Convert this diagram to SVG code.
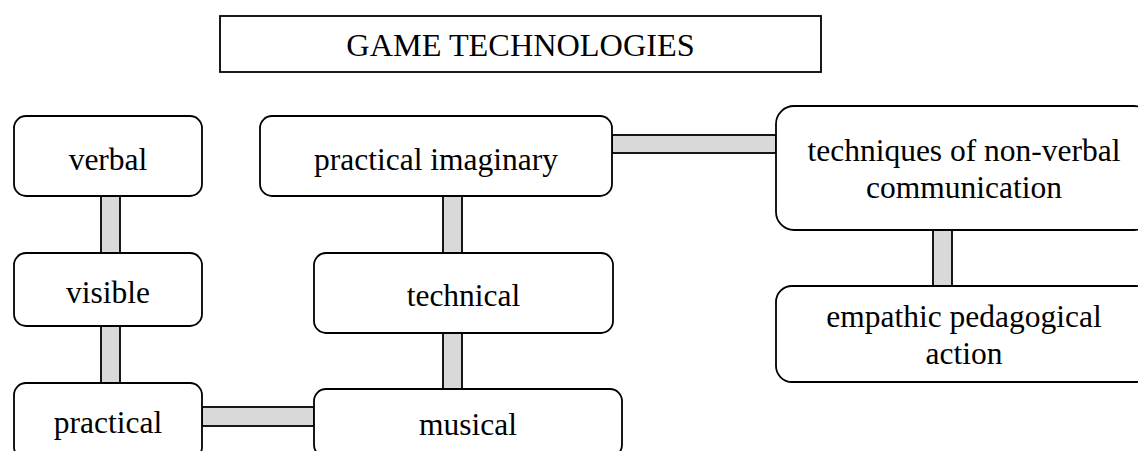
<svg xmlns="http://www.w3.org/2000/svg" width="1138" height="451" viewBox="0 0 1138 451">
<style>
.box{fill:#ffffff;stroke:#000000;stroke-width:1.8}
.bar{fill:#d9d9d9;stroke:#000000;stroke-width:1.8}
.t{font-family:"Liberation Serif","Times New Roman",serif;font-size:31.5px;fill:#000000;text-anchor:middle}
</style>
<rect x="0" y="0" width="1138" height="451" fill="#ffffff"/>
<g id="connectors">
<rect class="bar" x="101" y="196" width="19" height="57"/>
<rect class="bar" x="101" y="326" width="19" height="57"/>
<rect class="bar" x="202" y="407" width="112" height="19"/>
<rect class="bar" x="443" y="196" width="19" height="57"/>
<rect class="bar" x="443" y="333" width="19" height="56"/>
<rect class="bar" x="612" y="135" width="164" height="18"/>
<rect class="bar" x="933" y="230" width="19" height="56"/>
</g>
<g id="title">
<rect class="box" x="220" y="16" width="601" height="56"/>
<text class="t" x="520.5" y="56" style="font-size:32.3px">GAME TECHNOLOGIES</text>
</g>
<g id="verbal">
<rect class="box" x="14" y="116" width="188" height="80" rx="12"/>
<text class="t" x="108" y="170">verbal</text>
</g>
<g id="visible">
<rect class="box" x="14" y="253" width="188" height="73" rx="12"/>
<text class="t" x="108" y="303">visible</text>
</g>
<g id="practical">
<rect class="box" x="14" y="383" width="188" height="76" rx="12"/>
<text class="t" x="108" y="433">practical</text>
</g>
<g id="practical-imaginary">
<rect class="box" x="260" y="116" width="352" height="80" rx="12"/>
<text class="t" x="436" y="170">practical imaginary</text>
</g>
<g id="technical">
<rect class="box" x="314" y="253" width="299" height="80" rx="12"/>
<text class="t" x="463.5" y="306">technical</text>
</g>
<g id="musical">
<rect class="box" x="314" y="389" width="308" height="68" rx="12"/>
<text class="t" x="468" y="435">musical</text>
</g>
<g id="nonverbal">
<rect class="box" x="776" y="106" width="376" height="124" rx="18"/>
<text class="t" x="964" y="161">techniques of non-verbal</text>
<text class="t" x="964" y="198">communication</text>
</g>
<g id="empathic">
<rect class="box" x="776" y="286" width="376" height="96" rx="16"/>
<text class="t" x="964" y="327">empathic pedagogical</text>
<text class="t" x="964" y="364">action</text>
</g>
</svg>
